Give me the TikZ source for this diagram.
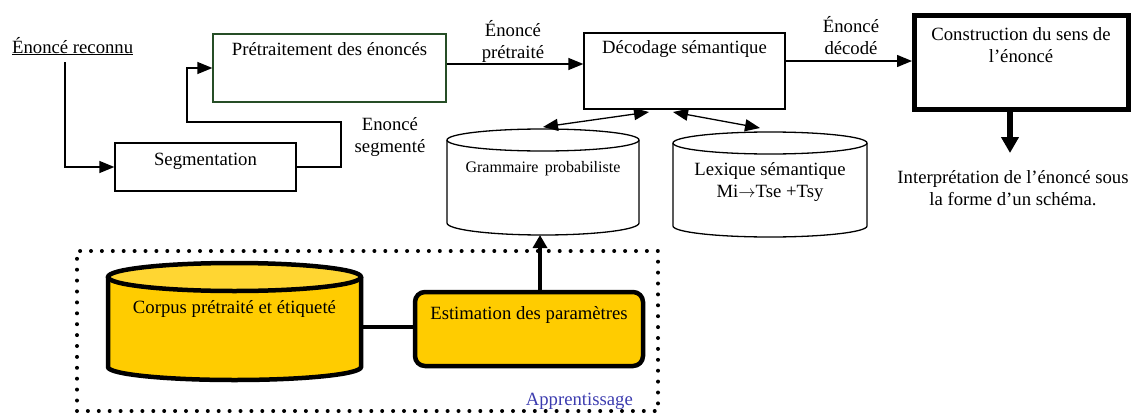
\documentclass[tikz,border=0pt]{standalone}
\usepackage{fontspec}
\setmainfont{Liberation Serif}
\usetikzlibrary{arrows.meta}
\definecolor{gold}{HTML}{FFCC00}
\definecolor{goldtop}{HTML}{FFD632}
\definecolor{dkgreen}{RGB}{38,78,38}
\definecolor{apblue}{RGB}{60,60,175}
\begin{document}
\begin{tikzpicture}[x=1pt,y=-1pt,
  font=\fontsize{18.7}{21.5}\selectfont,
  box/.style={draw, line width=1.3pt, inner sep=0pt},
  lbl/.style={anchor=base, inner sep=0pt, align=center},
  arr/.style={line width=1.3pt, -{Triangle[length=15pt,width=12pt]}},
  darr/.style={line width=1.3pt, {Triangle[length=15pt,width=12pt]}-{Triangle[length=15pt,width=12pt]}},
  bigarr/.style={line width=5.5pt, -{Triangle[length=16pt,width=17pt]}},
  thickarr/.style={line width=4.5pt, -{Triangle[length=13pt,width=14pt]}},
  thickline/.style={line width=4.5pt},
  ghost/.style={inner sep=0pt, outer sep=0pt}]
\useasboundingbox (0,0) rectangle (1133,415);

% --- upper chain boxes
\node[box, minimum width=181pt, minimum height=48pt] (seg) at (205.5,167) {};
\node[box, draw=dkgreen, minimum width=233pt, minimum height=68pt] (pre) at (329.5,68) {};
\node[box, minimum width=201pt, minimum height=76pt] (dec) at (684.5,71) {};
\node[box, line width=5pt, minimum width=214pt, minimum height=94pt] (con) at (1021.5,62.5) {};

\node[lbl, anchor=base west] (reco) at (12,53) {\underline{Énoncé reconnu}};
\node[lbl] (segt) at (205.5,165) {Segmentation};
\node[lbl] (pret) at (329.5,55) {Prétraitement des énoncés};
\node[lbl] (dect) at (684.5,53) {Décodage sémantique};
\node[lbl] (cont) at (1021,62) {Construction du sens de\\l’énoncé};
\node[lbl] (segl) at (390,152) {Enoncé\\segmenté};
\node[lbl] (prel) at (513,58) {Énoncé\\prétraité};
\node[lbl] (decl) at (851,54) {Énoncé\\décodé};
\node[lbl] (interp) at (1013,205) {Interprétation de l’énoncé sous\\la forme d’un schéma.};

% --- connectors of the chain
\coordinate (r1) at (65,62);
\draw[arr] (r1) |- (seg.west);
\draw[arr] (seg.east) -- (341,167) -- (341,122) -- (187,122) |- (pre.west);
\draw[arr] ([yshift=4pt]pre.east) -- ([yshift=7pt]dec.west);
\draw[arr] ([yshift=10pt]dec.east) -- ([yshift=1.5pt]con.west);
\coordinate (interptop) at (1010,153);
\draw[bigarr] ([xshift=-11.5pt]con.south) -- (interptop);

% --- cylinders (white)
\draw[line width=1.3pt, fill=white] (447,140) -- (447,223)
  arc[start angle=180, end angle=360, x radius=96pt, y radius=12pt] -- (639,140);
\draw[line width=1.3pt, fill=white] (543,140) ellipse[x radius=96pt, y radius=11pt];
\node[ghost, minimum width=192pt, minimum height=106pt] (gram) at (543,182) {};
\node[lbl, font=\fontsize{16}{19}\selectfont] (gramt) at (543,172) {Grammaire\hspace{0.4em}probabiliste};

\draw[line width=1.3pt, fill=white] (673,143) -- (673,226)
  arc[start angle=180, end angle=360, x radius=97pt, y radius=11pt] -- (867,143);
\draw[line width=1.3pt, fill=white] (770,143) ellipse[x radius=97pt, y radius=11pt];
\node[ghost, minimum width=194pt, minimum height=105pt] (lex) at (770,184.5) {};
\node[lbl] (lext) at (770,197) {Lexique sémantique\\Mi$\rightarrow$Tse +Tsy};

\coordinate (g1) at (543,127);
\coordinate (d1) at (649,112);
\coordinate (d2) at (673,112);
\coordinate (l1) at (760,128);
\draw[darr] (g1) -- (d1);
\draw[darr] (d2) -- (l1);

% --- learning block
\node[draw, line width=4pt, dash pattern=on 0pt off 10.9pt, line cap=round,
      minimum width=581pt, minimum height=160pt, inner sep=0pt] (appr) at (367.5,331) {};
\node[lbl, anchor=base east, text=apblue] (apprt) at (633,405) {Apprentissage};

\draw[line width=4.5pt, fill=gold] (108,277) -- (108,367)
  arc[start angle=180, end angle=360, x radius=126.5pt, y radius=13pt] -- (361,277);
\draw[line width=4.5pt, fill=goldtop] (234.5,277) ellipse[x radius=126.5pt, y radius=14pt];
\node[ghost, minimum width=253pt, minimum height=117pt] (corp) at (234.5,321.5) {};
\node[lbl] (corpt) at (234.5,313) {Corpus prétraité et étiqueté};

\node[draw, line width=4.5pt, fill=gold, rounded corners=10pt, inner sep=0pt,
      minimum width=228pt, minimum height=74pt] (est) at (529,329) {};
\node[lbl] (estt) at (529,319) {Estimation des paramètres};

\draw[thickline] ([yshift=-5.5pt]corp.east) -- ([yshift=2pt]est.west);
\draw[thickarr] ([xshift=11pt]est.north) -- ([xshift=-3pt]gram.south);
\end{tikzpicture}
\end{document}
